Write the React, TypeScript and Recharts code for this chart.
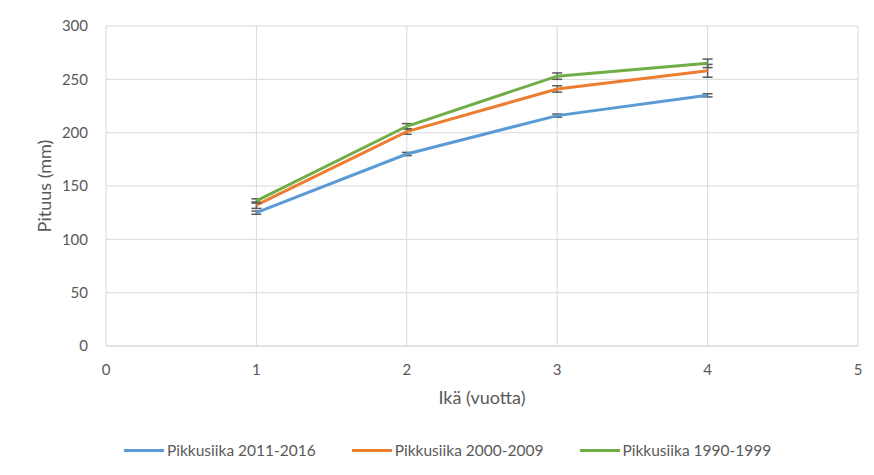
import React from 'react';
import { LineChart, Line, XAxis, YAxis, CartesianGrid, ErrorBar } from 'recharts';

const ages = [1, 2, 3, 4];
const seriesNames = ['Pikkusiika 2011-2016', 'Pikkusiika 2000-2009', 'Pikkusiika 1990-1999'];
const seriesColors = ['#5B9BD5', '#ED7D31', '#70AD47'];
const values2011 = [125, 180, 216, 235];
const values2000 = [132, 201, 241, 258];
const values1990 = [136, 206, 253, 265];
const errors2011 = [1.5, 1.5, 1.5, 1.5];
const errors2000 = [3, 2.5, 3, 6];
const errors1990 = [2, 2.5, 3, 4];
const xTicks = [0, 1, 2, 3, 4, 5];
const yTicks = [0, 50, 100, 150, 200, 250, 300];

const allValues = [values2011, values2000, values1990];
const allErrors = [errors2011, errors2000, errors1990];

const data = ages.map((age, i) => {
  const row: any = { age };
  allValues.forEach((vals, s) => {
    row['s' + s] = vals[i];
    row['e' + s] = allErrors[s][i];
  });
  return row;
});

const FONT = 'Lato, "Open Sans", sans-serif';
const TEXT = '#595959';

export default function App() {
  return (
    <div style={{ position: 'relative', width: 874, height: 475, margin: '-8px 0 0 -8px', background: '#fff', overflow: 'hidden', fontFamily: FONT }}>
      <div style={{ position: 'absolute', left: 7, top: 4, width: 900, height: 500, borderLeft: '1px solid #d9d9d9', borderTop: '1px solid #d9d9d9' }} />
      <div style={{ position: 'absolute', left: 0, top: 0 }}>
        <LineChart width={874} height={475} data={data} margin={{ top: 26, right: 16, left: 26, bottom: 69 }}>
          <CartesianGrid stroke="#d9d9d9" strokeWidth={1} />
          <XAxis
            dataKey="age"
            type="number"
            domain={[0, 5]}
            ticks={xTicks}
            height={60}
            axisLine={{ stroke: '#d9d9d9' }}
            tickLine={false}
            tickMargin={12}
            tick={{ fill: TEXT, fontSize: 15, fontFamily: FONT }}
            label={{ value: 'Ikä (vuotta)', position: 'insideBottom', offset: 2, fill: TEXT, fontSize: 18, fontFamily: FONT }}
          />
          <YAxis
            type="number"
            domain={[0, 300]}
            ticks={yTicks}
            width={80}
            axisLine={false}
            tickLine={false}
            tickMargin={12}
            tick={{ fill: TEXT, fontSize: 15, fontFamily: FONT }}
            label={{ value: 'Pituus (mm)', angle: -90, position: 'insideLeft', offset: 19, fill: TEXT, fontSize: 18, fontFamily: FONT, style: { textAnchor: 'middle' } }}
          />
          {seriesNames.map((name, s) => (
            <Line
              key={name}
              name={name}
              dataKey={'s' + s}
              stroke={seriesColors[s]}
              strokeWidth={3}
              dot={false}
              isAnimationActive={false}
            >
              <ErrorBar dataKey={'e' + s} direction="y" width={5} stroke="#595959" strokeWidth={1.5} isAnimationActive={false} />
            </Line>
          ))}
        </LineChart>
      </div>
      <div style={{ position: 'absolute', left: 124, top: 440, display: 'flex', gap: 36, fontSize: 15.5, color: TEXT, fontFamily: FONT }}>
        {seriesNames.map((name, s) => (
          <div key={name} style={{ display: 'flex', alignItems: 'center', height: 20 }}>
            <div style={{ width: 40, height: 3, background: seriesColors[s], marginRight: 3 }} />
            <span>{name}</span>
          </div>
        ))}
      </div>
    </div>
  );
}
